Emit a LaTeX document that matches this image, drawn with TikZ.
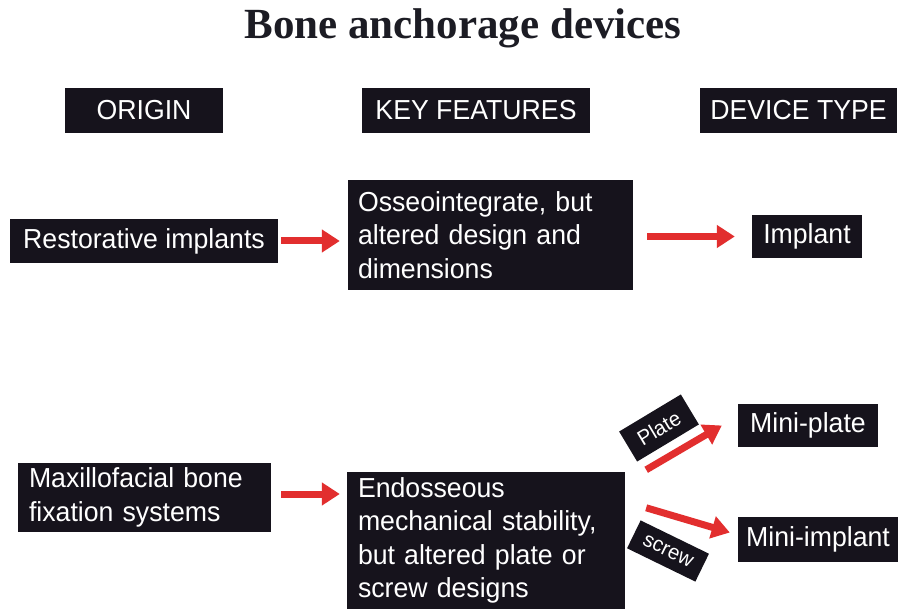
\documentclass[tikz,border=0pt]{standalone}
\usepackage{fontspec}
\setmainfont{Liberation Sans}[FakeStretch=0.97]
\newfontfamily\titlefont{Liberation Serif}
\usetikzlibrary{arrows.meta}
\definecolor{boxfill}{RGB}{22,19,28}
\definecolor{arrred}{RGB}{226,46,46}
\definecolor{titlecol}{RGB}{28,28,36}
\tikzset{
  darkbox/.style={fill=boxfill, text=white, inner sep=0pt, font=\fontsize{27.5}{33.5}\selectfont},
  tagbox/.style={fill=boxfill, text=white, inner sep=0pt, font=\fontsize{21}{24}\selectfont},
  redarrow/.style={draw=arrred, line width=7pt, -{Triangle[length=18pt,width=22pt]}}
}
\begin{document}
\begin{tikzpicture}[x=1pt,y=-1pt]
\useasboundingbox[fill=white] (0,0) rectangle (902,609);
\node[text=titlecol, font=\titlefont\bfseries\fontsize{43}{48}\selectfont] (title) at (463,28) {Bone anchorage devices};
% headers
\node[darkbox, minimum width=158pt, minimum height=45pt] (origin) at (144,110.5) {ORIGIN};
\node[darkbox, minimum width=228pt, minimum height=45pt] (keyf) at (476,110.5) {KEY FEATURES};
\node[darkbox, minimum width=197pt, minimum height=45pt] (dtype) at (798.5,110.5) {DEVICE TYPE};
% row 1
\node[darkbox, minimum width=268pt, minimum height=44pt] (rest) at (144,241) {Restorative implants};
\node[darkbox, inner xsep=10pt, minimum height=110pt, text width=265pt, align=left] (osseo) at (490.5,235) {Osseointegrate, but\\altered design and\\dimensions};
\node[darkbox, minimum width=110pt, minimum height=43pt] (implant) at (807,236.5) {Implant};
% row 2
\node[darkbox, inner xsep=11pt, minimum height=69pt, text width=231pt, align=left] (maxi) at (144.5,497.5) {Maxillofacial bone\\fixation systems};
\node[darkbox, inner xsep=11pt, minimum height=137pt, text width=256pt, align=left] (endo) at (486,540.5) {Endosseous\\mechanical stability,\\but altered plate or\\screw designs};
\node[darkbox, minimum width=140pt, minimum height=43pt] (miniplate) at (808,425.5) {Mini-plate};
\node[darkbox, minimum width=160pt, minimum height=45pt] (miniimp) at (818,539.5) {Mini-implant};
% arrows
\draw[redarrow] ([xshift=3pt]rest.east) -- ([xshift=-8pt]rest.east -| osseo.west);
\draw[redarrow] ([xshift=14pt]osseo.east |- implant.west) -- ([xshift=-17pt]implant.west);
\draw[redarrow] ([shift={(10,-3.5)}]maxi.east) -- ([shift={(-7,-3.5)}]maxi.east -| endo.west);
\draw[redarrow] ([shift={(21,-2)}]endo.north east) -- ([shift={(-16,0)}]miniplate.west);
\draw[redarrow] ([shift={(21,36)}]endo.north east) -- ([shift={(-8,-7)}]miniimp.west);
% tags
\node[tagbox, rotate=31, minimum width=72pt, minimum height=35pt] (platetag) at (659,428) {Plate};
\node[tagbox, rotate=-26, minimum width=76pt, minimum height=31pt] (screwtag) at (668,551) {screw};
\end{tikzpicture}
\end{document}
